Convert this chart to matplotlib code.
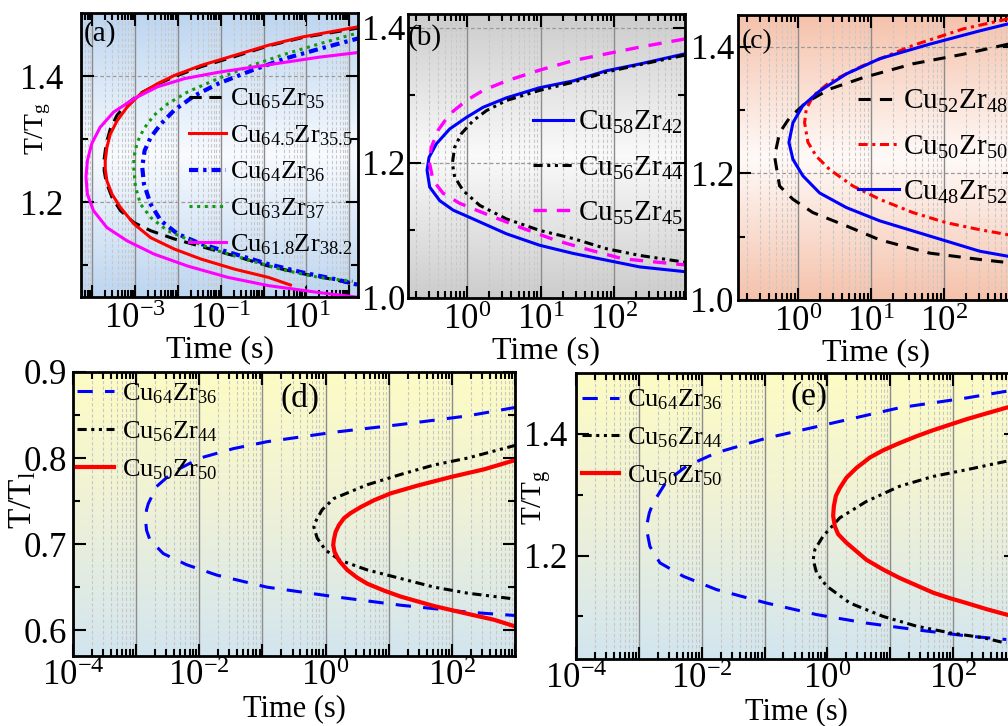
import matplotlib
matplotlib.use("Agg")
import matplotlib.pyplot as plt
import numpy as np
from matplotlib.colors import LinearSegmentedColormap
from matplotlib.ticker import LogLocator, FuncFormatter, NullFormatter, FixedLocator

plt.rcParams['font.family'] = ['Liberation Serif', 'DejaVu Serif']
plt.rcParams['mathtext.fontset'] = 'custom'
plt.rcParams['mathtext.rm'] = 'Liberation Serif'
plt.rcParams['mathtext.it'] = 'Liberation Serif:italic'
plt.rcParams['mathtext.bf'] = 'Liberation Serif:bold'

# ---- data: log10(time / s) and T/Tg (or T/Tl), traced upper branch -> nose -> lower branch
# panel (a)
a_cu65_logt = [2.275, 0.902, 0.118, -0.667, -1.451, -2.078, -2.471, -2.863, -3.176, -3.412, -3.569, -3.663,
               -3.710, -3.710, -3.663, -3.529, -3.333, -3.020, -2.627, -2.078, -1.451, -0.667, 0.118, 0.902, 1.686, 2.275]
a_cu65_T = [1.477, 1.461, 1.448, 1.431, 1.415, 1.399, 1.387, 1.373, 1.356, 1.338, 1.316, 1.293,
            1.269, 1.250, 1.232, 1.208, 1.187, 1.168, 1.155, 1.142, 1.130, 1.115, 1.099, 1.087, 1.077, 1.068]
a_cu645_logt = [2.275, 0.902, 0.118, -0.667, -1.451, -2.078, -2.471, -2.863, -3.176, -3.412, -3.569, -3.647,
                -3.686, -3.686, -3.647, -3.529, -3.333, -3.020, -2.627, -2.078, -1.451, -0.667, 0.118, 0.627]
a_cu645_T = [1.479, 1.462, 1.449, 1.433, 1.417, 1.401, 1.388, 1.372, 1.351, 1.329, 1.308, 1.287,
             1.266, 1.253, 1.234, 1.213, 1.192, 1.166, 1.144, 1.126, 1.110, 1.094, 1.081, 1.069]
a_cu64_logt = [2.275, 1.294, 0.510, -0.275, -1.059, -1.608, -2.078, -2.392, -2.627, -2.769, -2.824,
               -2.784, -2.627, -2.392, -2.000, -1.451, -0.667, 0.118, 0.902, 1.686, 2.275]
a_cu64_T = [1.461, 1.443, 1.428, 1.409, 1.388, 1.369, 1.346, 1.324, 1.303, 1.282, 1.256,
            1.229, 1.197, 1.171, 1.150, 1.134, 1.118, 1.102, 1.089, 1.078, 1.068]
a_cu63_logt = [2.275, 1.294, 0.510, -0.275, -1.059, -1.765, -2.235, -2.549, -2.784, -2.941, -3.020,
               -3.020, -2.980, -2.863, -2.627, -2.235, -1.686, -1.059, -0.275, 0.510, 1.294, 2.078]
a_cu63_T = [1.470, 1.451, 1.435, 1.417, 1.396, 1.375, 1.356, 1.338, 1.317, 1.295, 1.271,
            1.253, 1.224, 1.197, 1.176, 1.155, 1.139, 1.123, 1.107, 1.092, 1.081, 1.075]
a_cu618_logt = [2.275, 1.294, 0.510, -0.275, -1.059, -1.843, -2.471, -3.020, -3.490, -3.804, -4.000, -4.102,
                -4.133, -4.102, -3.961, -3.647, -3.176, -2.549, -1.765, -0.824, 0.118, 1.294, 2.275]
a_cu618_T = [1.438, 1.430, 1.422, 1.414, 1.406, 1.396, 1.383, 1.364, 1.343, 1.319, 1.293, 1.266,
             1.240, 1.213, 1.187, 1.160, 1.139, 1.118, 1.099, 1.081, 1.068, 1.057, 1.049]

# panel (b)
b_cu58_logt = [2.964, 2.350, 1.895, 1.441, 0.986, 0.532, 0.214, -0.014, -0.241, -0.423, -0.523,
               -0.550, -0.514, -0.377, -0.195, 0.077, 0.532, 0.986, 1.441, 1.895, 2.350, 2.964]
b_cu58_T = [1.361, 1.346, 1.336, 1.321, 1.311, 1.296, 1.282, 1.267, 1.250, 1.228, 1.208,
            1.189, 1.164, 1.144, 1.130, 1.117, 1.095, 1.078, 1.066, 1.056, 1.046, 1.039]
b_cu56_logt = [2.964, 2.350, 1.895, 1.441, 0.986, 0.532, 0.259, 0.077, -0.082, -0.173,
               -0.205, -0.173, -0.059, 0.168, 0.532, 0.986, 1.441, 1.895, 2.350, 2.964]
b_cu56_T = [1.359, 1.345, 1.334, 1.319, 1.307, 1.292, 1.277, 1.262, 1.243, 1.223,
            1.199, 1.179, 1.159, 1.137, 1.117, 1.100, 1.088, 1.073, 1.063, 1.053]
b_cu55_logt = [2.964, 2.350, 1.895, 1.441, 0.986, 0.532, 0.214, -0.014, -0.241, -0.400, -0.491,
               -0.523, -0.468, -0.332, -0.105, 0.305, 0.759, 1.214, 1.668, 2.123, 2.964]
b_cu55_T = [1.383, 1.371, 1.361, 1.351, 1.337, 1.321, 1.307, 1.292, 1.272, 1.248, 1.223,
            1.203, 1.174, 1.155, 1.140, 1.122, 1.103, 1.085, 1.071, 1.058, 1.049]

# panel (c)
c_cu52_logt = [2.877, 2.260, 1.575, 0.890, 0.434, 0.114, -0.114, -0.251, -0.320,
               -0.251, -0.068, 0.205, 0.662, 1.119, 1.804, 2.489, 2.877]
c_cu52_T = [1.404, 1.388, 1.373, 1.351, 1.333, 1.312, 1.288, 1.264, 1.227,
            1.180, 1.159, 1.138, 1.117, 1.095, 1.074, 1.064, 1.059]
c_cu50_logt = [2.877, 2.260, 1.575, 0.890, 0.434, 0.205, 0.114, 0.091,
               0.137, 0.251, 0.434, 0.753, 1.119, 1.575, 2.032, 2.489, 2.877]
c_cu50_T = [1.444, 1.428, 1.402, 1.370, 1.344, 1.322, 1.301, 1.280,
            1.249, 1.227, 1.206, 1.180, 1.159, 1.138, 1.122, 1.111, 1.103]
c_cu48_logt = [2.877, 2.489, 1.804, 1.119, 0.662, 0.297, 0.068, -0.068, -0.123,
               -0.068, 0.068, 0.297, 0.662, 1.119, 1.575, 2.032, 2.489, 2.877]
c_cu48_T = [1.436, 1.425, 1.404, 1.381, 1.357, 1.330, 1.307, 1.280, 1.249,
            1.222, 1.196, 1.169, 1.146, 1.125, 1.109, 1.093, 1.077, 1.069]

# panel (d), T/Tl
d_cu64_logt = [3.018, 2.250, 1.191, 0.131, -0.928, -1.458, -1.987, -2.411, -2.676, -2.808, -2.835, -2.851,
               -2.835, -2.782, -2.570, -2.199, -1.722, -0.928, 0.131, 1.191, 2.250, 3.018]
d_cu64_T = [0.859, 0.849, 0.839, 0.830, 0.819, 0.811, 0.800, 0.784, 0.767, 0.747, 0.740, 0.728,
            0.716, 0.705, 0.689, 0.676, 0.664, 0.650, 0.639, 0.629, 0.621, 0.617]
d_cu56_logt = [3.018, 2.250, 1.720, 1.191, 0.661, 0.131, -0.054, -0.160, -0.186,
               -0.133, -0.001, 0.237, 0.661, 1.191, 1.720, 2.250, 3.018]
d_cu56_T = [0.815, 0.800, 0.792, 0.781, 0.769, 0.753, 0.740, 0.726, 0.720,
            0.707, 0.693, 0.681, 0.670, 0.660, 0.650, 0.643, 0.636]
d_cu50_logt = [3.018, 2.515, 1.985, 1.456, 1.032, 0.767, 0.555, 0.396, 0.290, 0.211, 0.158, 0.131, 0.121,
               0.142, 0.211, 0.343, 0.502, 0.661, 0.926, 1.191, 1.720, 2.250, 2.674, 3.018]
d_cu50_T = [0.798, 0.787, 0.778, 0.768, 0.759, 0.751, 0.743, 0.736, 0.730, 0.722, 0.714, 0.705, 0.699,
            0.691, 0.681, 0.670, 0.661, 0.654, 0.646, 0.639, 0.628, 0.619, 0.612, 0.604]

# panel (e), T/Tg
e_cu64_logt = [2.847, 2.211, 1.151, 0.091, -0.969, -1.764, -2.241, -2.559, -2.771, -2.834, -2.866, -2.877,
               -2.824, -2.665, -2.294, -1.764, -0.969, -0.174, 0.621, 1.416, 2.211, 2.847]
e_cu64_T = [1.470, 1.459, 1.443, 1.418, 1.393, 1.369, 1.347, 1.322, 1.287, 1.270, 1.254, 1.243,
            1.215, 1.188, 1.166, 1.144, 1.122, 1.103, 1.089, 1.078, 1.068, 1.062]
e_cu56_logt = [2.847, 2.211, 1.681, 1.151, 0.621, 0.197, -0.068, -0.200, -0.227,
               -0.174, -0.015, 0.356, 0.886, 1.416, 1.946, 2.476, 2.847]
e_cu56_T = [1.355, 1.341, 1.330, 1.314, 1.289, 1.262, 1.232, 1.210, 1.193,
            1.172, 1.150, 1.122, 1.100, 1.084, 1.073, 1.065, 1.056]
e_cu50_logt = [2.847, 2.476, 2.211, 1.946, 1.681, 1.416, 1.151, 0.886, 0.674, 0.462, 0.303, 0.197, 0.134,
               0.102, 0.091, 0.118, 0.171, 0.303, 0.462, 0.621, 0.886, 1.151, 1.416, 1.681, 1.946,
               2.211, 2.529, 2.847]
e_cu50_T = [1.443, 1.432, 1.424, 1.415, 1.406, 1.396, 1.385, 1.373, 1.361, 1.344, 1.328, 1.311, 1.298,
            1.281, 1.265, 1.248, 1.235, 1.221, 1.207, 1.193, 1.177, 1.163, 1.151, 1.139, 1.130,
            1.122, 1.112, 1.103]

# axis settings
a_xlim, a_ylim = (10 ** -4.25, 10 ** 2.2), (1.05, 1.5)
b_xlim, b_ylim = (10 ** -0.81, 10 ** 2.97), (1.0, 1.42)
c_xlim, c_ylim = (10 ** -0.82, 10 ** 2.97), (1.0, 1.45)
d_xlim, d_ylim = (1e-4, 1e3), (0.57, 0.9)
e_xlim, e_ylim = (1e-4, 1e3), (1.03, 1.5)
a_xlabeled = [-3, -1, 1]
b_xlabeled = [0, 1, 2]
c_xlabeled = [0, 1, 2, 3]
de_xlabeled = [-4, -2, 0, 2]
a_yticks, a_yminor = [1.2, 1.4], [1.1, 1.3]
bc_yticks, bc_yminor = [1.0, 1.2, 1.4], [1.1, 1.3]
d_yticks, d_yminor = [0.6, 0.7, 0.8, 0.9], [0.65, 0.75, 0.85]
e_yticks, e_yminor = [1.2, 1.4], [1.1, 1.3]

W, H = 1008, 726
fig = plt.figure(figsize=(W / 100, H / 100), dpi=100)


def px_axes(left, top, right, bottom):
    return [left / W, 1 - bottom / H, (right - left) / W, (bottom - top) / H]


def background(rect, colors):
    bg = fig.add_axes(rect, zorder=0)
    cmap = LinearSegmentedColormap.from_list('bg', colors)
    g = np.linspace(0, 1, 256).reshape(-1, 1)
    bg.imshow(g, cmap=cmap, aspect='auto', origin='lower', extent=[0, 1, 0, 1])
    bg.set_axis_off()
    ax = fig.add_axes(rect, zorder=1)
    ax.set_facecolor('none')
    return ax


def style(ax, xlim, ylim, xlabeled, yticks, yminor, ypad, xpad=4, hgrid=True):
    ax.set_xscale('log')
    ax.set_xlim(*xlim)
    ax.set_ylim(*ylim)
    ax.xaxis.set_major_locator(LogLocator(base=10, numticks=20))
    ax.xaxis.set_minor_locator(LogLocator(base=10, subs=np.arange(2, 10), numticks=20))
    ax.xaxis.set_minor_formatter(NullFormatter())
    ax.xaxis.set_major_formatter(FuncFormatter(
        lambda v, p: r'$10^{%d}$' % round(np.log10(v)) if round(np.log10(v)) in xlabeled else ''))
    ax.yaxis.set_major_locator(FixedLocator(yticks))
    ax.yaxis.set_minor_locator(FixedLocator(yminor))
    ax.yaxis.set_major_formatter(FuncFormatter(lambda v, p: '%.1f' % v))
    ax.tick_params(which='both', direction='in', top=True, right=True, width=1.5)
    ax.tick_params(which='major', length=9)
    ax.tick_params(which='minor', length=5)
    ax.tick_params(axis='x', labelsize=25, pad=xpad)
    ax.tick_params(axis='y', which='major', labelsize=25, pad=ypad)
    ax.grid(which='major', axis='x', color='#8c8c8c', lw=1.0, ls='-')
    ax.grid(which='minor', axis='x', color='#c8c8c8', lw=0.8, ls=(0, (3, 2)))
    if hgrid:
        ax.grid(which='major', axis='y', color='#9a9a9a', lw=0.9, ls=(0, (3, 2)))
    for s in ax.spines.values():
        s.set_linewidth(2)


def curve(ax, logt, T, color, dashes=None, lw=2.2, label=None):
    line, = ax.plot(10 ** np.array(logt), T, color=color, lw=lw, label=label,
                    solid_joinstyle='round', dash_joinstyle='round')
    if dashes:
        line.set_dashes(dashes)
    return line


def legend(ax, anchor, size, spacing, textpad=0.15):
    ax.legend(loc='center left', bbox_to_anchor=anchor, frameon=False, fontsize=size,
              borderpad=0, borderaxespad=0, handlelength=1.4, handletextpad=textpad,
              labelspacing=spacing)


BLK, RED, BLU, GRN, MAG = 'black', '#ff0000', '#0000ff', '#119911', '#ff00ff'

# ---------- (a)
ax = background(px_axes(81, 13, 358, 297), ['#bcd5f0', '#f8fbff', '#bcd5f0'])
style(ax, a_xlim, a_ylim, a_xlabeled, a_yticks, a_yminor, ypad=13)
curve(ax, a_cu65_logt, a_cu65_T, BLK, (4, 2.5), label=r'Cu$_{65}$Zr$_{35}$')
curve(ax, a_cu645_logt, a_cu645_T, RED, label=r'Cu$_{64.5}$Zr$_{35.5}$')
curve(ax, a_cu64_logt, a_cu64_T, BLU, (2.2, 1.2, 0.8, 1.2), lw=3, label=r'Cu$_{64}$Zr$_{36}$')
curve(ax, a_cu63_logt, a_cu63_T, GRN, (1, 1.5), label=r'Cu$_{63}$Zr$_{37}$')
curve(ax, a_cu618_logt, a_cu618_T, MAG, label=r'Cu$_{61.8}$Zr$_{38.2}$')
legend(ax, (0.39, 0.44), 19, 0.45)
ax.text(0.011, 0.975, '(a)', transform=ax.transAxes, fontsize=21, ha='left', va='top')
ax.set_xlabel('Time (s)', fontsize=23, labelpad=0)
ax.set_ylabel(r'T/T$_\mathrm{g}$', fontsize=20)
ax.yaxis.set_label_coords(-0.10, 0.595)

# ---------- (b)
ax = background(px_axes(408, 14, 685, 298), ['#cccccc', '#fafafa', '#cccccc'])
style(ax, b_xlim, b_ylim, b_xlabeled, bc_yticks, bc_yminor, ypad=2)
curve(ax, b_cu58_logt, b_cu58_T, BLU, label=r'Cu$_{58}$Zr$_{42}$')
curve(ax, b_cu56_logt, b_cu56_T, BLK, (3, 1.5, 1, 1.5, 1, 1.5), label=r'Cu$_{56}$Zr$_{44}$')
curve(ax, b_cu55_logt, b_cu55_T, MAG, (4, 3), lw=2.4, label=r'Cu$_{55}$Zr$_{45}$')
legend(ax, (0.45, 0.458), 21, 0.62)
ax.text(0.0, 0.965, '(b)', transform=ax.transAxes, fontsize=21, ha='left', va='top')
ax.set_xlabel('Time (s)', fontsize=23, labelpad=0)

# ---------- (c)
ax = background(px_axes(738, 15, 1015, 300), ['#f5c2ab', '#fffaf8', '#f5c2ab'])
style(ax, c_xlim, c_ylim, c_xlabeled, bc_yticks, bc_yminor, ypad=3)
curve(ax, c_cu52_logt, c_cu52_T, BLK, (4, 3), label=r'Cu$_{52}$Zr$_{48}$')
curve(ax, c_cu50_logt, c_cu50_T, RED, (3, 1.5, 1, 1.5), label=r'Cu$_{50}$Zr$_{50}$')
curve(ax, c_cu48_logt, c_cu48_T, BLU, label=r'Cu$_{48}$Zr$_{52}$')
legend(ax, (0.433, 0.537), 21, 0.62)
ax.text(0.014, 0.951, '(c)', transform=ax.transAxes, fontsize=20, ha='left', va='top')
ax.set_xlabel('Time (s)', fontsize=23, labelpad=0)

# ---------- (d)
ax = background(px_axes(73, 372, 515, 656), ['#d2e5ef', '#eef1d8', '#fdfcc4'])
style(ax, d_xlim, d_ylim, de_xlabeled, d_yticks, d_yminor, ypad=4, xpad=3, hgrid=False)
curve(ax, d_cu64_logt, d_cu64_T, BLU, (5, 4), label=r'Cu$_{64}$Zr$_{36}$')
curve(ax, d_cu56_logt, d_cu56_T, BLK, (3, 1.5, 1, 1.5, 1, 1.5), label=r'Cu$_{56}$Zr$_{44}$')
curve(ax, d_cu50_logt, d_cu50_T, RED, lw=3, label=r'Cu$_{50}$Zr$_{50}$')
legend(ax, (0.01, 0.79), 19, 0.5, textpad=0.3)
ax.text(0.513, 0.908, '(d)', transform=ax.transAxes, fontsize=24, ha='center', va='center')
ax.set_xlabel('Time (s)', fontsize=22, labelpad=1)
ax.set_ylabel(r'T/T$_\mathrm{l}$', fontsize=24)
ax.yaxis.set_label_coords(-0.078, 0.55)

# ---------- (e)
ax = background(px_axes(576, 373, 1016, 659), ['#d2e5ef', '#eef1d8', '#fdfcc4'])
style(ax, e_xlim, e_ylim, de_xlabeled, e_yticks, e_yminor, ypad=6, xpad=3, hgrid=False)
curve(ax, e_cu64_logt, e_cu64_T, BLU, (5, 4), label=r'Cu$_{64}$Zr$_{36}$')
curve(ax, e_cu56_logt, e_cu56_T, BLK, (3, 1.5, 1, 1.5, 1, 1.5), label=r'Cu$_{56}$Zr$_{44}$')
curve(ax, e_cu50_logt, e_cu50_T, RED, lw=3, label=r'Cu$_{50}$Zr$_{50}$')
legend(ax, (0.014, 0.773), 19, 0.5, textpad=0.3)
ax.text(0.53, 0.916, '(e)', transform=ax.transAxes, fontsize=24, ha='center', va='center')
ax.set_xlabel('Time (s)', fontsize=22, labelpad=1)
ax.set_ylabel(r'T/T$_\mathrm{g}$', fontsize=21)
ax.yaxis.set_label_coords(-0.052, 0.566)

fig.savefig('out.png', dpi=100)
